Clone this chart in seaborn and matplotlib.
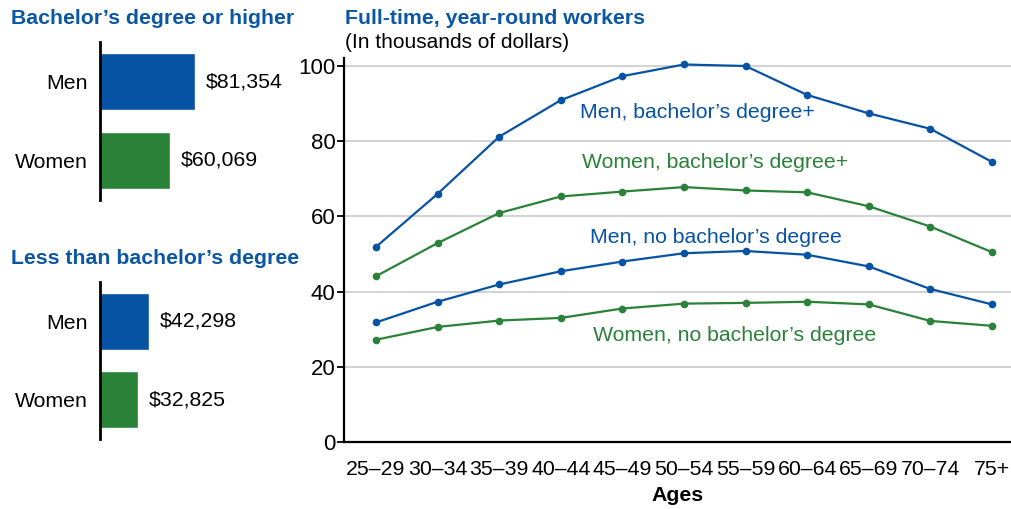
import numpy as np
import pandas as pd
import matplotlib
matplotlib.use("Agg")
import matplotlib.pyplot as plt
import seaborn as sns

# ---------------- data ----------------
bar_groups = ["Men", "Women"]
ba_plus_median = [81354, 60069]
no_ba_median = [42298, 32825]

age_groups = ["25–29", "30–34", "35–39", "40–44", "45–49", "50–54",
              "55–59", "60–64", "65–69", "70–74", "75+"]
men_ba = [51.9, 66.0, 81.2, 90.9, 97.3, 100.4, 100.0, 92.3, 87.4, 83.3, 74.5]
women_ba = [44.1, 52.9, 60.9, 65.3, 66.6, 67.8, 66.9, 66.4, 62.7, 57.3, 50.5]
men_no_ba = [31.8, 37.3, 41.9, 45.4, 48.0, 50.2, 50.8, 49.8, 46.7, 40.7, 36.6]
women_no_ba = [27.2, 30.6, 32.3, 33.0, 35.5, 36.8, 37.0, 37.3, 36.6, 32.2, 30.9]
series_names = ["Men, bachelor’s degree+", "Women, bachelor’s degree+",
                "Men, no bachelor’s degree", "Women, no bachelor’s degree"]
y_ticks = [0, 20, 40, 60, 80, 100]

# ---------------- style ----------------
sns.set_theme(style="white")
plt.rcParams["font.family"] = ["Liberation Sans", "DejaVu Sans"]

BLUE = "#0653a4"
GREEN = "#2a8239"
TITLE_BLUE = "#0a57a6"
FS = 15.3

W, H = 1011, 509
fig = plt.figure(figsize=(W / 100, H / 100), dpi=100)


def fx(px):
    return px / W


def fy(py):
    return 1 - py / H


# ---------------- left bar panels ----------------
def bar_panel(rect, values, title, title_y):
    ax = fig.add_axes(rect)
    df = pd.DataFrame({"group": bar_groups, "value": values})
    sns.barplot(data=df, x="value", y="group", hue="group",
                palette=[BLUE, GREEN], orient="h", width=0.73,
                legend=False, ax=ax, saturation=1)
    ax.set_xlim(0, 171200)
    ax.set_ylim(1.5, -0.5)
    for s in ["top", "right", "bottom"]:
        ax.spines[s].set_visible(False)
    ax.spines["left"].set_color("black")
    ax.spines["left"].set_linewidth(2)
    ax.set_xlabel("")
    ax.set_ylabel("")
    ax.set_xticks([])
    ax.tick_params(axis="y", left=False, length=0, pad=8.5, labelsize=FS,
                   labelcolor="black")
    for i, v in enumerate(values):
        ax.annotate(f"${v:,}", xy=(v, i), xytext=(7.5, 0),
                    textcoords="offset points", va="center", ha="left",
                    fontsize=FS, color="black")
    fig.text(fx(11), fy(title_y), title, fontsize=FS, fontweight="bold",
             color=TITLE_BLUE, ha="left", va="center")
    return ax


bar_panel([fx(100), fy(200), fx(200), (200 - 42) / H], ba_plus_median,
          "Bachelor’s degree or higher", 18)
bar_panel([fx(100), fy(439), fx(200), (439 - 282) / H], no_ba_median,
          "Less than bachelor’s degree", 258)

# ---------------- line chart ----------------
y_top = 102
ax = fig.add_axes([fx(344), fy(442), fx(W - 344), (y_top * 3.76) / H])
x = np.arange(len(age_groups))
series = [men_ba, women_ba, men_no_ba, women_no_ba]
colors = [BLUE, GREEN, BLUE, GREEN]
for vals, c in zip(series, colors):
    sns.lineplot(x=x, y=vals, color=c, marker="o", markersize=5.5,
                 markeredgewidth=0, linewidth=1.6, ax=ax)

label_pos = [(5.21, 87.5), (5.5, 74.4), (5.52, 54.4), (5.83, 28.4)]
for name, (lx, ly), c in zip(series_names, label_pos, colors):
    ax.text(lx, ly, name, color=c, fontsize=FS, ha="center", va="center")

ax.set_xlim(-0.52, 10.31)
ax.set_ylim(0, y_top)
ax.set_yticks(y_ticks)
ax.set_yticklabels([str(t) for t in y_ticks])
ax.set_xticks(x)
ax.set_xticklabels(age_groups)
ax.grid(axis="y", color="#cfcfcf", linewidth=1.3)
ax.set_axisbelow(True)
for s in ["top", "right"]:
    ax.spines[s].set_visible(False)
for s in ["left", "bottom"]:
    ax.spines[s].set_color("black")
    ax.spines[s].set_linewidth(1.6)
ax.tick_params(axis="y", left=True, length=5, width=1.3, color="black",
               labelsize=16, pad=1, labelcolor="black")
ax.tick_params(axis="x", bottom=False, labelsize=FS, pad=7, labelcolor="black")
ax.set_xlabel("Ages", fontsize=FS, fontweight="bold", labelpad=5, color="black")
ax.set_ylabel("")

fig.text(fx(345), fy(18), "Full-time, year-round workers", fontsize=FS,
         fontweight="bold", color=TITLE_BLUE, ha="left", va="center")
fig.text(fx(345), fy(42), "(In thousands of dollars)", fontsize=15,
         color="black", ha="left", va="center")

fig.savefig("out.png", dpi=100)
